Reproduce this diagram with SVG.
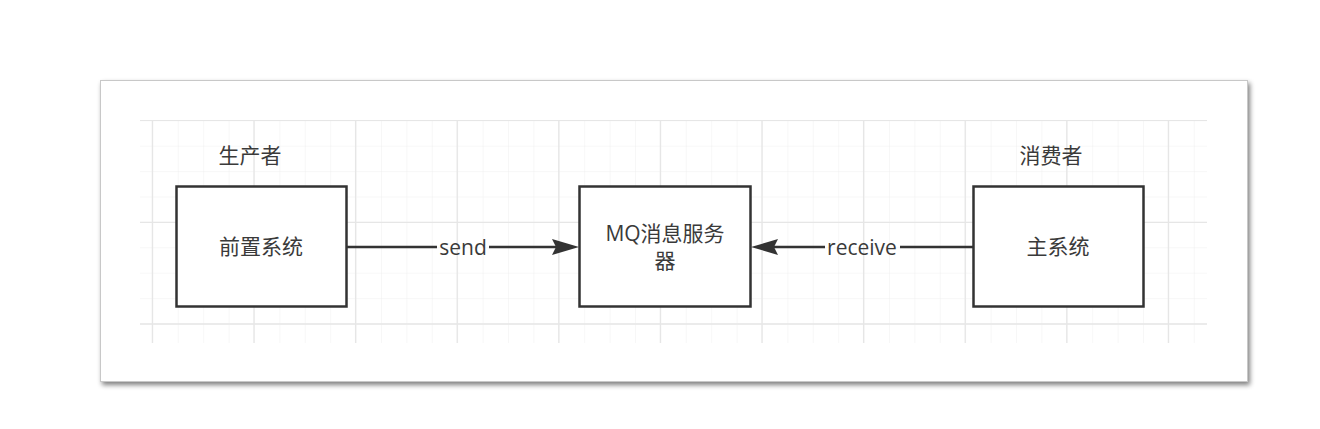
<svg xmlns="http://www.w3.org/2000/svg" width="1320" height="429" viewBox="0 0 1320 429">
<defs>
<style>
.t{font-family:"Open Sans","Liberation Sans","Noto Sans CJK SC",sans-serif;font-size:21px;fill:#3a3a3a;text-anchor:middle}
.box{fill:#fff;stroke:#333;stroke-width:2.5}
.edge{stroke:#333;stroke-width:2.5;fill:none}
.gm{stroke:#f0f0f0;stroke-width:1}
.gM{stroke:#e6e6e6;stroke-width:1.3}
</style>
<filter id="sh" x="-5%" y="-10%" width="110%" height="125%">
<feGaussianBlur in="SourceAlpha" stdDeviation="2.5"/>
<feOffset dx="2" dy="3" result="b"/>
<feComponentTransfer><feFuncA type="linear" slope="0.5"/></feComponentTransfer>
<feMerge><feMergeNode/><feMergeNode in="SourceGraphic"/></feMerge>
</filter>
<pattern id="grid" x="0" y="0" width="25.4" height="25.4" patternUnits="userSpaceOnUse" patternTransform="translate(152.4,145.7)">
<path d="M0 0V25.4M0 0H25.4" class="gm"/>
</pattern>
<clipPath id="gc"><rect x="140" y="120" width="1067" height="223"/></clipPath>
</defs>
<rect width="1320" height="429" fill="#fff"/>
<rect x="100.5" y="80.5" width="1147" height="301" fill="#fff" stroke="#c8c8c8" stroke-width="1" filter="url(#sh)"/>
<g id="grid-bg" clip-path="url(#gc)">
<rect x="140" y="120" width="1067" height="223" fill="url(#grid)"/>
<g class="gM">
<path d="M152.4 120V343M254 120V343M355.6 120V343M457.2 120V343M558.8 120V343M660.4 120V343M762 120V343M863.6 120V343M965.2 120V343M1066.8 120V343M1168.4 120V343"/>
<path d="M140 120.3H1207M140 222.3H1207M140 324H1207"/>
</g>
</g>
<g id="label-producer"><text class="t" x="250" y="163">生产者</text></g>
<g id="label-consumer"><text class="t" x="1051" y="163">消费者</text></g>
<g id="node-front">
<rect class="box" x="176.5" y="186.5" width="170" height="120"/>
<text class="t" x="261" y="254">前置系统</text>
</g>
<g id="node-mq">
<rect class="box" x="579.5" y="186.5" width="171" height="120"/>
<text class="t" x="665" y="241">MQ消息服务</text>
<text class="t" x="665" y="268">器</text>
</g>
<g id="node-main">
<rect class="box" x="973.5" y="186.5" width="170" height="120"/>
<text class="t" x="1058" y="254">主系统</text>
</g>
<g id="connectors">
<g id="edge-send">
<line class="edge" x1="347" y1="247" x2="437" y2="247"/>
<line class="edge" x1="489" y1="247" x2="556" y2="247"/>
<path d="M552 239L579 247L552 255L556 247Z" fill="#333"/>
<text class="t" x="463" y="255">send</text>
</g>
<g id="edge-receive">
<line class="edge" x1="973" y1="247" x2="900" y2="247"/>
<line class="edge" x1="825" y1="247" x2="774" y2="247"/>
<path d="M778 239L751 247L778 255L774 247Z" fill="#333"/>
<text class="t" x="862" y="255">receive</text>
</g>
</g>
</svg>
